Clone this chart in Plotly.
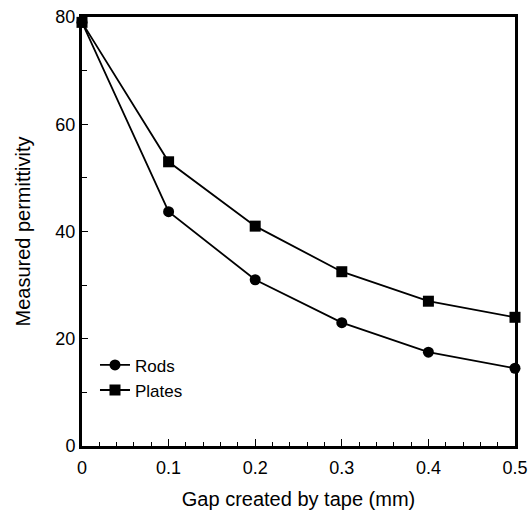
import plotly.graph_objects as go

gap = [0, 0.1, 0.2, 0.3, 0.4, 0.5]
rods = [79, 43.7, 31, 23, 17.5, 14.5]
plates = [79, 53, 41, 32.5, 27, 24]

fig = go.Figure()
fig.add_trace(go.Scatter(x=gap, y=rods, name="Rods", mode="lines+markers",
                         line=dict(color="black", width=1.8),
                         marker=dict(symbol="circle", size=11, color="black"),
                         cliponaxis=False))
fig.add_trace(go.Scatter(x=gap, y=plates, name="Plates", mode="lines+markers",
                         line=dict(color="black", width=1.8),
                         marker=dict(symbol="square", size=11, color="black"),
                         cliponaxis=False))

font = dict(family="Liberation Sans, Arial, sans-serif", color="black", size=18)
fig.update_layout(
    width=529, height=512,
    margin=dict(l=82, r=14, t=17, b=66, autoexpand=False),
    paper_bgcolor="white", plot_bgcolor="white",
    font=font,
    showlegend=True,
    legend=dict(x=0.03, y=0.23, xanchor="left", yanchor="top",
                bgcolor="rgba(0,0,0,0)", font=dict(size=17), tracegroupgap=0,
                itemwidth=30),
    xaxis=dict(range=[0, 0.5], tickvals=[0, 0.1, 0.2, 0.3, 0.4, 0.5],
               ticktext=["0", "0.1", "0.2", "0.3", "0.4", "0.5"],
               ticks="inside", ticklen=7, tickwidth=1.2, tickcolor="black",
               minor=dict(dtick=0.02, ticks="inside", ticklen=4, tickcolor="black"),
               showline=True, linewidth=3, linecolor="black", mirror=True,
               showgrid=False, zeroline=False, tickfont=dict(size=18),
               automargin=False, ticklabelstandoff=3,
               title=dict(text="Gap created by tape (mm)", font=dict(size=20), standoff=16)),
    yaxis=dict(range=[0, 80], tickvals=[0, 20, 40, 60, 80],
               ticks="inside", ticklen=6, tickwidth=1.2, tickcolor="black",
               minor=dict(dtick=10, ticks="inside", ticklen=5, tickcolor="black"),
               showline=True, linewidth=3, linecolor="black", mirror=True,
               showgrid=False, zeroline=False, tickfont=dict(size=18),
               automargin=False,
               title=dict(text="Measured permittivity", font=dict(size=20), standoff=20)),
)
fig.write_html("out.html")
